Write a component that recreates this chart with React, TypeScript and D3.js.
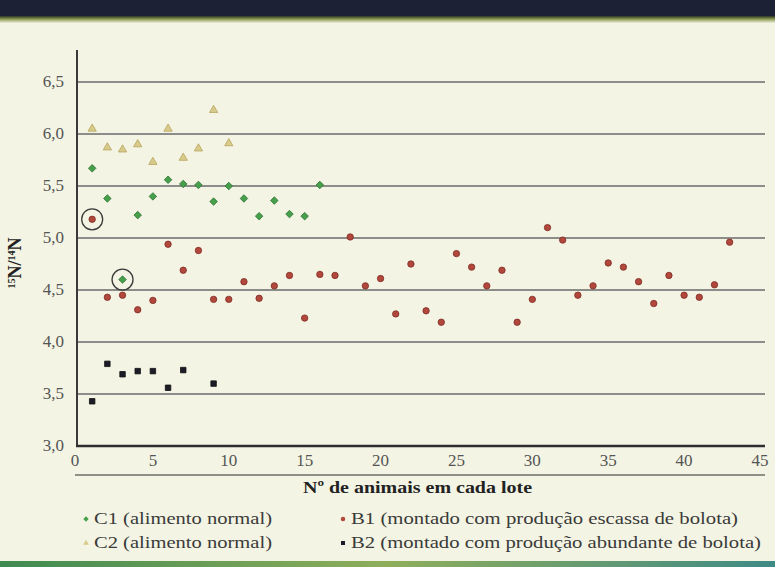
import React, { useEffect, useRef } from "react";
import * as d3 from "d3";

// eixos
const xTicks = [0, 5, 10, 15, 20, 25, 30, 35, 40, 45];
const yTicks = [3.0, 3.5, 4.0, 4.5, 5.0, 5.5, 6.0, 6.5];

// C1 (alimento normal)
const c1Lotes = [1, 2, 3, 4, 5, 6, 7, 8, 9, 10, 11, 12, 13, 14, 15, 16];
const c1Values = [5.67, 5.38, 4.6, 5.22, 5.4, 5.56, 5.52, 5.51, 5.35, 5.5, 5.38, 5.21, 5.36, 5.23, 5.21, 5.51];

// C2 (alimento normal)
const c2Lotes = [1, 2, 3, 4, 5, 6, 7, 8, 9, 10];
const c2Values = [6.05, 5.87, 5.85, 5.9, 5.73, 6.05, 5.77, 5.86, 6.23, 5.91];

// B1 (montado com produção escassa de bolota)
const b1Lotes = d3.range(1, 44);
const b1Values = [
  5.18, 4.43, 4.45, 4.31, 4.4, 4.94, 4.69, 4.88, 4.41, 4.41,
  4.58, 4.42, 4.54, 4.64, 4.23, 4.65, 4.64, 5.01, 4.54, 4.61,
  4.27, 4.75, 4.3, 4.19, 4.85, 4.72, 4.54, 4.69, 4.19, 4.41,
  5.1, 4.98, 4.45, 4.54, 4.76, 4.72, 4.58, 4.37, 4.64, 4.45,
  4.43, 4.55, 4.96,
];

// B2 (montado com produção abundante de bolota)
const b2Lotes = [1, 2, 3, 4, 5, 6, 7, 9];
const b2Values = [3.43, 3.79, 3.69, 3.72, 3.72, 3.56, 3.73, 3.6];

// pontos assinalados com circulo
const circledSeries = ["B1", "C1"];
const circledLotes = [1, 3];

const legendLabels = [
  "C1 (alimento normal)",
  "C2 (alimento normal)",
  "B1 (montado com produção escassa de bolota)",
  "B2 (montado com produção abundante de bolota)",
];

const W = 775,
  H = 567;

const App = () => {
  const svgRef = useRef<SVGSVGElement>(null);

  useEffect(() => {
    const svg = d3.select(svgRef.current);
    svg.selectAll("*").remove();

    const x = d3.scaleLinear().domain([0, 45]).range([77, 760]);
    const y = d3.scaleLinear().domain([3, 6.5]).range([446, 82]);
    const fmt = (v: number) => d3.format(".1f")(v).replace(".", ",");
    const serif = "Liberation Serif, Times New Roman, serif";

    const defs = svg.append("defs");
    const topG = defs
      .append("linearGradient")
      .attr("id", "topband")
      .attr("x1", 0).attr("y1", 0).attr("x2", 0).attr("y2", 1);
    topG.append("stop").attr("offset", "0%").attr("stop-color", "#2a3424");
    topG.append("stop").attr("offset", "45%").attr("stop-color", "#8d9a52");
    topG.append("stop").attr("offset", "100%").attr("stop-color", "#eef0dc");
    const botG = defs
      .append("linearGradient")
      .attr("id", "botband")
      .attr("x1", 0).attr("y1", 0).attr("x2", 1).attr("y2", 0);
    botG.append("stop").attr("offset", "0%").attr("stop-color", "#3f8a52");
    botG.append("stop").attr("offset", "50%").attr("stop-color", "#8fae5a");
    botG.append("stop").attr("offset", "100%").attr("stop-color", "#3f8a86");

    // fundo
    svg.append("rect").attr("width", W).attr("height", H).attr("fill", "#f3f4e3");
    svg.append("rect").attr("width", W).attr("height", 17).attr("fill", "#1d2136");
    svg.append("rect").attr("y", 16).attr("width", W).attr("height", 7).attr("fill", "url(#topband)");
    svg.append("rect").attr("y", 561).attr("width", W).attr("height", 6).attr("fill", "url(#botband)");

    // grelha
    svg
      .append("g")
      .selectAll("line")
      .data(yTicks.filter((d) => d > 3))
      .enter()
      .append("line")
      .attr("x1", x(0))
      .attr("x2", 765)
      .attr("y1", (d) => y(d))
      .attr("y2", (d) => y(d))
      .attr("stroke", "#8c8c88")
      .attr("stroke-width", 2);

    // eixos
    svg.append("line")
      .attr("x1", x(0)).attr("x2", x(0)).attr("y1", 50).attr("y2", y(3))
      .attr("stroke", "#3a3a3a").attr("stroke-width", 2);
    svg.append("line")
      .attr("x1", x(0) - 1).attr("x2", 765).attr("y1", y(3)).attr("y2", y(3))
      .attr("stroke", "#2e2e2e").attr("stroke-width", 2.5);
    svg.append("line")
      .attr("x1", 75).attr("x2", 765).attr("y1", 475).attr("y2", 475)
      .attr("stroke", "#6e6e6a").attr("stroke-width", 1.5);

    svg
      .append("g")
      .selectAll("text")
      .data(yTicks)
      .enter()
      .append("text")
      .attr("x", 64)
      .attr("y", (d) => y(d) + 5)
      .attr("text-anchor", "end")
      .attr("font-family", serif)
      .attr("font-size", 17)
      .attr("fill", "#555")
      .text((d) => fmt(d));

    svg
      .append("g")
      .selectAll("text")
      .data(xTicks)
      .enter()
      .append("text")
      .attr("x", (d) => x(d) - (d === 0 ? 2 : 0))
      .attr("y", 466)
      .attr("text-anchor", "middle")
      .attr("font-family", serif)
      .attr("font-size", 17)
      .attr("fill", "#555")
      .text((d) => String(d));

    // titulos
    svg.append("text")
      .attr("x", 303).attr("y", 493)
      .attr("font-family", serif).attr("font-size", 17).attr("font-weight", "bold")
      .attr("fill", "#222")
      .attr("textLength", 229).attr("lengthAdjust", "spacingAndGlyphs")
      .text("Nº de animais em cada lote");

    const yl = svg.append("text")
      .attr("transform", "translate(21,263) rotate(-90)")
      .attr("text-anchor", "middle")
      .attr("font-family", serif).attr("font-size", 18).attr("font-weight", "bold")
      .attr("fill", "#222");
    yl.append("tspan").attr("font-size", 10).attr("dy", -6).text("15");
    yl.append("tspan").attr("dy", 6).text("N/");
    yl.append("tspan").attr("font-size", 10).attr("dy", -6).text("14");
    yl.append("tspan").attr("dy", 6).text("N");

    // marcadores
    const diamond = d3.symbol().type(d3.symbolDiamond2).size(36);
    const triangle = d3.symbol().type(d3.symbolTriangle).size(30);
    const square = d3.symbol().type(d3.symbolSquare).size(30);

    const series = [
      { id: "C2", lotes: c2Lotes, values: c2Values, path: triangle, fill: "#d8cb8a", stroke: "#b8a460" },
      { id: "C1", lotes: c1Lotes, values: c1Values, path: diamond, fill: "#46a049", stroke: "#2d6e35" },
      { id: "B2", lotes: b2Lotes, values: b2Values, path: square, fill: "#1c1c28", stroke: "#111" },
      { id: "B1", lotes: b1Lotes, values: b1Values, path: null, fill: "#b2473b", stroke: "#7d2c26" },
    ];

    series.forEach((s) => {
      const pts = s.lotes.map((l, i) => ({ l, v: s.values[i] }));
      const g = svg.append("g");
      if (s.path) {
        g.selectAll("path")
          .data(pts)
          .enter()
          .append("path")
          .attr("transform", (d) => `translate(${x(d.l)},${y(d.v)})`)
          .attr("d", s.path() as string)
          .attr("fill", s.fill)
          .attr("stroke", s.stroke)
          .attr("stroke-width", 0.8);
      } else {
        g.selectAll("circle")
          .data(pts)
          .enter()
          .append("circle")
          .attr("cx", (d) => x(d.l))
          .attr("cy", (d) => y(d.v))
          .attr("r", 3.2)
          .attr("fill", s.fill)
          .attr("stroke", s.stroke)
          .attr("stroke-width", 0.8);
      }
    });

    // circulos de destaque
    circledSeries.forEach((id, i) => {
      const s = series.find((d) => d.id === id)!;
      const l = circledLotes[i];
      const v = s.values[s.lotes.indexOf(l)];
      svg.append("circle")
        .attr("cx", x(l)).attr("cy", y(v)).attr("r", 10.5)
        .attr("fill", "none").attr("stroke", "#3a3a3a").attr("stroke-width", 1.3);
    });

    // legenda
    const legendX = [86, 86, 343, 343];
    const legendY = [524, 548, 524, 548];
    const legendEnd = [272, 272, 738, 761];
    const legendSym = [
      { p: d3.symbol().type(d3.symbolDiamond2).size(18), fill: "#46a049" },
      { p: d3.symbol().type(d3.symbolTriangle).size(14), fill: "#d8cb8a" },
      { p: d3.symbol().type(d3.symbolCircle).size(16), fill: "#b2473b" },
      { p: d3.symbol().type(d3.symbolSquare).size(16), fill: "#1c1c28" },
    ];
    legendLabels.forEach((label, i) => {
      svg.append("path")
        .attr("transform", `translate(${legendX[i]},${legendY[i] - 5})`)
        .attr("d", legendSym[i].p() as string)
        .attr("fill", legendSym[i].fill);
      svg.append("text")
        .attr("x", legendX[i] + 8)
        .attr("y", legendY[i])
        .attr("font-family", serif)
        .attr("font-size", 16)
        .attr("fill", "#3a3a3a")
        .attr("textLength", legendEnd[i] - legendX[i] - 8)
        .attr("lengthAdjust", "spacingAndGlyphs")
        .text(label);
    });
  });

  return (
    <svg
      ref={svgRef}
      width={W}
      height={H}
      style={{ position: "absolute", left: 0, top: 0, display: "block" }}
    ></svg>
  );
};

export default App;
